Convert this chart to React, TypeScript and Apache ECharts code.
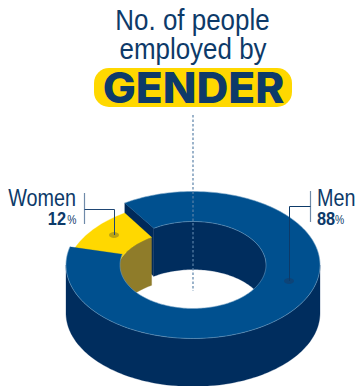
import React, { useEffect, useRef } from "react";
import * as echarts from "echarts";

const categories = ["Women", "Men"];
const shares = [12, 88];
const titleLines = ["No. of people", "employed by"];
const titleKeyword = "GENDER";

const INK = "#0d3a69";
const RING_TOP = ["#ffd800", "#00508f"];
const RING_SIDE = ["#8f7c2a", "#002d5e"];
const CUT_FACE = "#002a5a";

const CX = 193;
const CY = 265;
const OUTER = { rx: 127, ry: 73.5 };
const INNER = { rx: 73, ry: 43.5 };
const DEPTH = 48;
const START_ANGLE = 122.5;
// the smaller slice sits lower than the ring, with a slightly wider hole
const SUNKEN = { drop: 10, innerDrop: 9, innerRx: 77 };

const rad = (d: number) => (d * Math.PI) / 180;

function arc(rx: number, ry: number, cy: number, from: number, to: number) {
  const steps = Math.max(2, Math.ceil(Math.abs(to - from) / 1.5));
  const pts: number[][] = [];
  for (let i = 0; i <= steps; i++) {
    const a = rad(from + ((to - from) * i) / steps);
    pts.push([CX + rx * Math.cos(a), cy - ry * Math.sin(a)]);
  }
  return pts;
}

const poly = (points: number[][], fill: string, z2: number) => ({
  type: "polygon",
  z2,
  silent: true,
  shape: { points },
  style: { fill, stroke: fill, lineWidth: 0.3 },
});

const edge = (points: number[][], z2: number) => ({
  type: "polyline",
  z2,
  silent: true,
  shape: { points },
  style: { fill: "none", stroke: "rgba(190,215,235,0.55)", lineWidth: 0.6 },
});

function sliceRange(index: number) {
  const total = shares.reduce((s, v) => s + v, 0);
  const before = shares.slice(0, index).reduce((s, v) => s + v, 0);
  return [
    START_ANGLE + (before / total) * 360,
    START_ANGLE + ((before + shares[index]) / total) * 360,
  ];
}

function renderSlice(params: any) {
  const i = params.dataIndex;
  const [a0, a1] = sliceRange(i);
  const children: any[] = [];
  if (i === 0) {
    const top = CY + SUNKEN.drop;
    const innerTop = CY + SUNKEN.innerDrop;
    children.push(
      poly(
        [
          ...arc(SUNKEN.innerRx, INNER.ry, innerTop, a0, a1),
          ...arc(SUNKEN.innerRx, INNER.ry, innerTop + DEPTH, a1, a0),
        ],
        RING_SIDE[i],
        3,
      ),
      poly(
        [
          ...arc(OUTER.rx, OUTER.ry, top, a0, a1),
          ...arc(SUNKEN.innerRx, INNER.ry, innerTop, a1, a0),
        ],
        RING_TOP[i],
        4,
      ),
    );
  } else {
    const cutAngle = a1;
    const outerCut = arc(OUTER.rx, OUTER.ry, CY, cutAngle, cutAngle)[0];
    const innerCut = arc(INNER.rx, INNER.ry, CY, cutAngle, cutAngle)[0];
    children.push(
      // front wall of the cylinder
      poly(
        [...arc(OUTER.rx, OUTER.ry, CY, 180, 360), ...arc(OUTER.rx, OUTER.ry, CY + DEPTH, 360, 180)],
        RING_SIDE[i],
        1,
      ),
      // far wall of the hole
      poly(
        [...arc(INNER.rx, INNER.ry, CY, 360, cutAngle), ...arc(INNER.rx, INNER.ry, CY + DEPTH, cutAngle, 360)],
        RING_SIDE[i],
        1,
      ),
      // exposed end of the ring where the smaller slice drops away
      poly(
        [outerCut, innerCut, [innerCut[0], innerCut[1] + DEPTH], [outerCut[0], outerCut[1] + DEPTH]],
        CUT_FACE,
        2,
      ),
      poly(
        [...arc(OUTER.rx, OUTER.ry, CY, a0, a1), ...arc(INNER.rx, INNER.ry, CY, a1, a0)],
        RING_TOP[i],
        5,
      ),
      edge(arc(OUTER.rx, OUTER.ry, CY, a0, a1), 6),
      edge(arc(INNER.rx, INNER.ry, CY, a0, a1), 6),
    );
  }
  return { type: "group", children };
}

const NARROW = 0.86;

const label = (
  text: string,
  x: number,
  y: number,
  fontSize: number,
  fontWeight: string,
  align: string,
  scaleX = NARROW,
) => ({
  type: "text",
  x,
  y,
  z: 20,
  scaleX,
  silent: true,
  style: {
    text,
    fill: INK,
    fontFamily: "Liberation Sans",
    fontSize,
    fontWeight,
    align,
    verticalAlign: "bottom",
    lineHeight: fontSize,
  },
});

const rule = (x1: number, y1: number, x2: number, y2: number, stroke: string, lineWidth = 1) => ({
  type: "line",
  z: 20,
  silent: true,
  shape: { x1, y1, x2, y2 },
  style: { stroke, lineWidth },
});

const anchor = (cx: number, cy: number, fill: string) => ({
  type: "ellipse",
  z: 19,
  silent: true,
  shape: { cx, cy, rx: 5, ry: 3 },
  style: { fill },
});

export default function App() {
  const ref = useRef<HTMLDivElement>(null);

  useEffect(() => {
    if (!ref.current) return;
    const chart = echarts.init(ref.current, null, { renderer: "svg" });
    chart.setOption({
      animation: false,
      backgroundColor: "#ffffff",
      series: [
        {
          type: "custom",
          coordinateSystem: "none",
          silent: true,
          data: shares,
          renderItem: renderSlice,
        },
      ],
      graphic: [
        // heading
        label(titleLines[0], 192.5, 35, 30, "normal", "center", 0.865),
        label(titleLines[1], 193, 64, 30, "normal", "center", 0.865),
        {
          type: "rect",
          z: 18,
          silent: true,
          shape: { x: 94, y: 68, width: 198, height: 39, r: 15 },
          style: { fill: "#ffd800" },
        },
        {
          type: "text",
          x: 193.5,
          y: 108,
          z: 20,
          scaleX: 1.05,
          silent: true,
          style: {
            text: titleKeyword,
            fill: INK,
            fontFamily: "Inter",
            fontSize: 42,
            fontWeight: 800,
            align: "center",
            verticalAlign: "bottom",
            lineHeight: 42,
          },
        },
        // axis of the ring
        {
          type: "line",
          z: 17,
          silent: true,
          shape: { x1: 193, y1: 115, x2: 193, y2: 291 },
          style: { stroke: "#5a82a8", lineWidth: 1.2, lineDash: [2.5, 2] },
        },
        // Women callout
        label(categories[0], 76, 210, 23, "normal", "right"),
        label(`${shares[0]}`, 66, 228, 19, "bold", "right"),
        label("%", 76.5, 226, 12, "normal", "right"),
        rule(84.5, 193, 84.5, 224, "#6f8aa9", 1.2),
        rule(84.5, 209.5, 114.5, 209.5, "#1f4674"),
        rule(114.5, 209.5, 114.5, 235, "#1f4674"),
        anchor(114, 235, "#bda412"),
        // Men callout
        label(categories[1], 317, 210, 23, "normal", "left"),
        label(`${shares[1]}`, 317, 228, 19, "bold", "left"),
        label("%", 335, 226, 12, "normal", "left"),
        rule(310.5, 191, 310.5, 222, "#6f8aa9", 1.2),
        rule(289.5, 206.5, 310.5, 206.5, "#0d3a69"),
        rule(289.5, 206.5, 289.5, 281, "#0d3a69"),
        anchor(289, 281, "#0d4478"),
      ],
    });
    return () => chart.dispose();
  }, []);

  return (
    <div
      ref={ref}
      style={{ position: "fixed", left: 0, top: 0, width: 355, height: 386 }}
    />
  );
}
